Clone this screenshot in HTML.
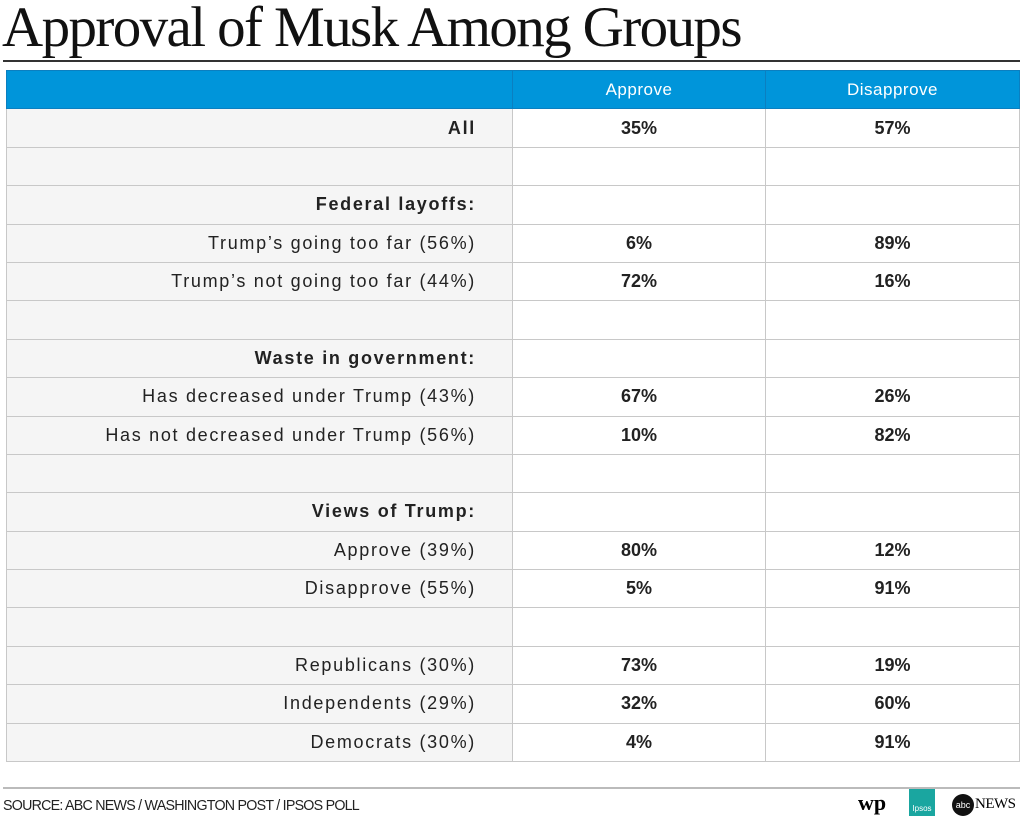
<!DOCTYPE html>
<html><head><style>
body{margin:0;width:1024px;height:825px;background:#fff;position:relative;overflow:hidden;font-family:"Liberation Sans",sans-serif}
h1{position:absolute;left:2px;top:-5px;margin:0;font-family:"Liberation Serif",serif;font-weight:normal;font-size:57px;letter-spacing:-1.6px;color:#111;white-space:nowrap}
.rule{position:absolute;left:3px;width:1017px;top:60px;height:2px;background:#333}
table{position:absolute;left:6px;top:70px;border-collapse:collapse;width:1013px;table-layout:fixed}
tr{height:38.4px}
td{border:1px solid #c8c8c8;padding:0;font-size:18px;color:#222}
td.l{background:#f5f5f5;text-align:right;padding-right:36px;letter-spacing:1.7px}
td.v{text-align:center;font-weight:bold}
tr.h td{background:#0095da;color:#fff;font-weight:normal;letter-spacing:0.5px;border-color:#0b7fc0;font-size:17px}
.b{font-weight:bold}
.rule2{position:absolute;left:3px;width:1017px;top:787px;height:2px;background:#bbb}
.src{position:absolute;left:3px;top:797px;font-size:15px;letter-spacing:-0.8px;color:#222;transform:scaleX(0.95);transform-origin:left}
</style></head><body>
<h1>Approval of Musk Among Groups</h1>
<div class="rule"></div>
<table>
<colgroup><col style="width:506px"><col style="width:253px"><col style="width:254px"></colgroup>
<tr class="h"><td class="l" style="background:#0095da"></td><td class="v" style="font-weight:normal">Approve</td><td class="v" style="font-weight:normal">Disapprove</td></tr>
<tr><td class="l b">All</td><td class="v">35%</td><td class="v">57%</td></tr>
<tr><td class="l"></td><td class="v"></td><td class="v"></td></tr>
<tr><td class="l b">Federal layoffs:</td><td class="v"></td><td class="v"></td></tr>
<tr><td class="l">Trump’s going too far (56%)</td><td class="v">6%</td><td class="v">89%</td></tr>
<tr><td class="l">Trump’s not going too far (44%)</td><td class="v">72%</td><td class="v">16%</td></tr>
<tr><td class="l"></td><td class="v"></td><td class="v"></td></tr>
<tr><td class="l b">Waste in government:</td><td class="v"></td><td class="v"></td></tr>
<tr><td class="l">Has decreased under Trump (43%)</td><td class="v">67%</td><td class="v">26%</td></tr>
<tr><td class="l">Has not decreased under Trump (56%)</td><td class="v">10%</td><td class="v">82%</td></tr>
<tr><td class="l"></td><td class="v"></td><td class="v"></td></tr>
<tr><td class="l b">Views of Trump:</td><td class="v"></td><td class="v"></td></tr>
<tr><td class="l">Approve (39%)</td><td class="v">80%</td><td class="v">12%</td></tr>
<tr><td class="l">Disapprove (55%)</td><td class="v">5%</td><td class="v">91%</td></tr>
<tr><td class="l"></td><td class="v"></td><td class="v"></td></tr>
<tr><td class="l">Republicans (30%)</td><td class="v">73%</td><td class="v">19%</td></tr>
<tr><td class="l">Independents (29%)</td><td class="v">32%</td><td class="v">60%</td></tr>
<tr><td class="l">Democrats (30%)</td><td class="v">4%</td><td class="v">91%</td></tr>
</table>
<div class="rule2"></div>
<div class="src">SOURCE: ABC NEWS / WASHINGTON POST / IPSOS POLL</div>
<div style="position:absolute;left:858px;top:790px;font-family:'Liberation Serif',serif;font-weight:bold;font-size:22px">wp</div>
<div style="position:absolute;left:909px;top:789px;width:26px;height:27px;background:#1aa6a0;color:#fff;font-size:8px;text-align:center;line-height:40px">Ipsos</div>
<div style="position:absolute;left:952px;top:794px;width:22px;height:22px;border-radius:50%;background:#111;color:#fff;font-size:9px;text-align:center;line-height:22px">abc</div>
<div style="position:absolute;left:975px;top:796px;font-family:'Liberation Serif',serif;font-size:15px;letter-spacing:-0.5px">NEWS</div>
</body></html>
